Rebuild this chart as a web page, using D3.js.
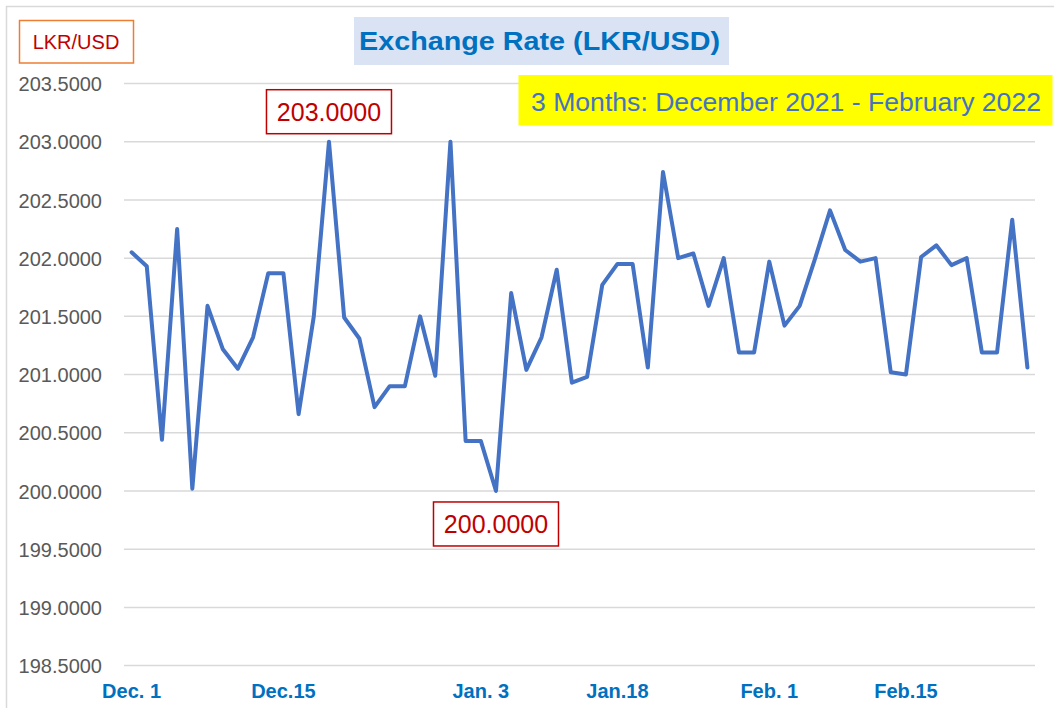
<!DOCTYPE html>
<html>
<head>
<meta charset="utf-8">
<script src="https://cdn.jsdelivr.net/npm/d3@7"></script>
<style>
  body { margin: 0; background: #fff; }
  svg { display: block; font-family: "Liberation Sans", Arial, sans-serif; }
</style>
</head>
<body>
<svg id="chart"></svg>
<script>
// Business days, Dec 2021 - Feb 2022
const dates = [
  "Dec 1", "Dec 2", "Dec 3", "Dec 6", "Dec 7", "Dec 8", "Dec 9", "Dec 10", "Dec 13", "Dec 14",
  "Dec 15", "Dec 16", "Dec 17", "Dec 20", "Dec 21", "Dec 22", "Dec 23", "Dec 24", "Dec 27", "Dec 28",
  "Dec 29", "Dec 30", "Dec 31",
  "Jan 3", "Jan 4", "Jan 5", "Jan 6", "Jan 7", "Jan 10", "Jan 11", "Jan 12", "Jan 13",
  "Jan 18", "Jan 19", "Jan 20", "Jan 21", "Jan 24", "Jan 25", "Jan 26", "Jan 27", "Jan 28", "Jan 31",
  "Feb 1", "Feb 2", "Feb 3", "Feb 7", "Feb 8", "Feb 9", "Feb 10", "Feb 11", "Feb 14",
  "Feb 15", "Feb 17", "Feb 18", "Feb 21", "Feb 22", "Feb 23", "Feb 24", "Feb 25", "Feb 28"
];

// LKR per USD
const rates = [
  202.05, 201.93, 200.44, 202.25, 200.02, 201.59, 201.22, 201.05, 201.32, 201.87,
  201.87, 200.66, 201.50, 203.00, 201.49, 201.31, 200.72, 200.90, 200.90, 201.50,
  200.99, 203.00, 200.43, 200.43, 200.00, 201.70, 201.04, 201.32, 201.90, 200.93,
  200.98, 201.77, 201.95, 201.95, 201.06, 202.74, 202.00, 202.04, 201.59, 202.00,
  201.19, 201.19, 201.97, 201.42, 201.59, 201.99, 202.41, 202.07, 201.97, 202.00,
  201.02, 201.00, 202.01, 202.11, 201.94, 202.00, 201.19, 201.19, 202.33, 201.06
];

const xTickDates = ["Dec 1", "Dec 15", "Jan 3", "Jan 18", "Feb 1", "Feb 15"];
const xTickLabels = ["Dec. 1", "Dec.15", "Jan. 3", "Jan.18", "Feb. 1", "Feb.15"];
const yTicks = [198.5, 199.0, 199.5, 200.0, 200.5, 201.0, 201.5, 202.0, 202.5, 203.0, 203.5];

const width = 1054, height = 708;

const svg = d3.select('#chart')
  .attr('width', width)
  .attr('height', height);

svg.append('rect')
  .attr('width', width).attr('height', height)
  .attr('fill', '#fff');

// chart area border (only top/left edges fall inside the picture)
svg.append('rect')
  .attr('x', 6.5).attr('y', 6.5)
  .attr('width', 2000).attr('height', 2000)
  .attr('fill', 'none')
  .attr('stroke', '#D9D9D9')
  .attr('stroke-width', 1.5);

const x = d3.scaleBand()
  .domain(dates)
  .range([124, 1035]);

const y = d3.scaleLinear()
  .domain([198.5, 203.5])
  .range([665.6, 83.5]);

const cx = d => x(d) + x.bandwidth() / 2;

// gridlines
svg.append('g')
  .selectAll('line')
  .data(yTicks)
  .enter().append('line')
  .attr('x1', 124).attr('x2', 1035)
  .attr('y1', d => y(d)).attr('y2', d => y(d))
  .attr('stroke', '#D9D9D9')
  .attr('stroke-width', 1.5);

// y axis labels
const yAxis = svg.append('g')
  .attr('transform', 'translate(102,0)')
  .call(d3.axisLeft(y).tickValues(yTicks).tickSize(0).tickPadding(0).tickFormat(d3.format('.4f')));
yAxis.select('.domain').remove();
yAxis.selectAll('text')
  .attr('font-family', '"Liberation Sans", Arial, sans-serif')
  .attr('font-size', 20)
  .attr('fill', '#595959')
  .attr('dy', '0.36em');

// x axis labels
const xAxis = svg.append('g')
  .attr('transform', 'translate(0,676)')
  .call(d3.axisBottom(x).tickValues(xTickDates).tickSize(0).tickPadding(0)
    .tickFormat(d => xTickLabels[xTickDates.indexOf(d)]));
xAxis.select('.domain').remove();
xAxis.selectAll('text')
  .attr('font-family', '"Liberation Sans", Arial, sans-serif')
  .attr('font-size', 20)
  .attr('font-weight', 'bold')
  .attr('fill', '#0070C0')
  .attr('dy', '1.1em');

// the rate line
const line = d3.line()
  .x((d, i) => cx(dates[i]))
  .y(d => y(d));

svg.append('path')
  .datum(rates)
  .attr('d', line)
  .attr('fill', 'none')
  .attr('stroke', '#4472C4')
  .attr('stroke-width', 4)
  .attr('stroke-linejoin', 'round')
  .attr('stroke-linecap', 'round');

// max / min callouts
const iMax = d3.maxIndex(rates);
const iMin = d3.minIndex(rates);
const boxW = 125, boxH = 44;

function callout(i, top) {
  const px = cx(dates[i]);
  const g = svg.append('g');
  g.append('rect')
    .attr('x', px - boxW / 2)
    .attr('y', top)
    .attr('width', boxW).attr('height', boxH)
    .attr('fill', '#fff')
    .attr('stroke', '#C00000')
    .attr('stroke-width', 1.5);
  g.append('text')
    .attr('x', px)
    .attr('y', top + boxH / 2 + 9)
    .attr('text-anchor', 'middle')
    .attr('font-size', 25)
    .attr('fill', '#C00000')
    .text(d3.format('.4f')(rates[i]));
}
callout(iMax, y(rates[iMax]) - 8 - boxH);
callout(iMin, y(rates[iMin]) + 11);

// unit box
svg.append('rect')
  .attr('x', 19.5).attr('y', 20.5)
  .attr('width', 114).attr('height', 42.5)
  .attr('fill', '#fff')
  .attr('stroke', '#ED7D31')
  .attr('stroke-width', 1.5);
svg.append('text')
  .attr('x', 76).attr('y', 49)
  .attr('text-anchor', 'middle')
  .attr('font-size', 20)
  .attr('fill', '#C00000')
  .text('LKR/USD');

// title
svg.append('rect')
  .attr('x', 354).attr('y', 17)
  .attr('width', 375).attr('height', 48)
  .attr('fill', '#DAE3F3');
svg.append('text')
  .attr('x', 359).attr('y', 49.5)
  .attr('font-size', 26)
  .attr('font-weight', 'bold')
  .attr('fill', '#0070C0')
  .attr('textLength', 361)
  .attr('lengthAdjust', 'spacingAndGlyphs')
  .text('Exchange Rate (LKR/USD)');

// period box
svg.append('rect')
  .attr('x', 518.5).attr('y', 75)
  .attr('width', 534).attr('height', 50.5)
  .attr('fill', '#FFFF00');
svg.append('text')
  .attr('x', 531).attr('y', 110.7)
  .attr('font-size', 26)
  .attr('fill', '#4472C4')
  .attr('textLength', 510)
  .attr('lengthAdjust', 'spacingAndGlyphs')
  .text('3 Months: December 2021 - February 2022');
</script>
</body>
</html>
